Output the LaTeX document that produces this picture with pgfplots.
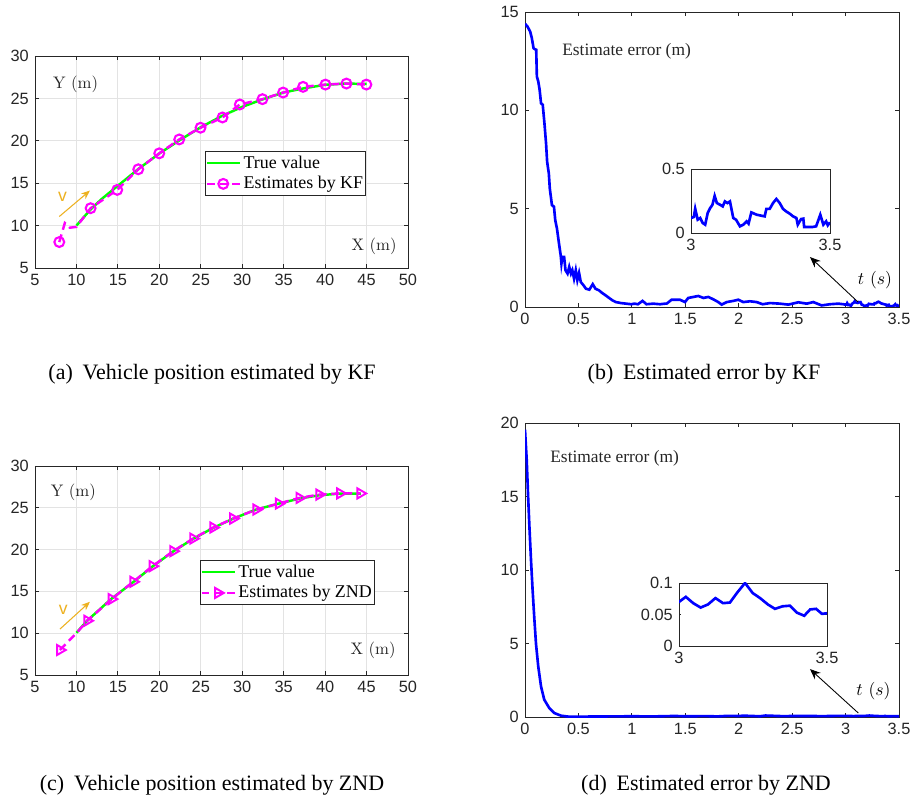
\documentclass[border=0pt]{standalone}
\usepackage{fontspec}
\setsansfont{Liberation Sans}
\newfontfamily\tnr{Liberation Serif}
\usepackage{pgfplots}
\usepackage{pgfplotstable}
\pgfplotsset{compat=1.18}
\usetikzlibrary{arrows.meta}

\definecolor{axgray}{rgb}{0.15,0.15,0.15}
\definecolor{vorange}{rgb}{0.929,0.694,0.125}
\definecolor{mmag}{rgb}{1,0,1}
\definecolor{mgreen}{rgb}{0,1,0}
\definecolor{mblue}{rgb}{0,0,1}

% KF estimate error (t, e)
\pgfplotstableread{
t e
0 14.40
0.022 14.27
0.048 14.01
0.064 13.67
0.080 13.16
0.092 13.11
0.105 13.08
0.111 11.72
0.124 11.47
0.137 11.04
0.150 10.36
0.166 10.28
0.182 9.34
0.197 8.32
0.207 7.39
0.223 6.79
0.232 6.03
0.252 5.18
0.271 5.10
0.283 4.42
0.299 3.99
0.318 3.23
0.334 2.63
0.341 2.21
0.350 2.55
0.366 2.55
0.379 1.87
0.398 1.70
0.414 2.04
0.430 1.70
0.443 1.87
0.459 1.44
0.475 1.87
0.490 1.36
0.506 1.73
0.522 1.27
0.548 1.10
0.570 0.93
0.602 0.88
0.634 1.16
0.659 0.93
0.691 0.85
0.723 0.71
0.755 0.59
0.787 0.46
0.818 0.34
0.850 0.25
0.898 0.20
0.946 0.17
0.994 0.14
1.025 0.17
1.057 0.14
1.100 0.31
1.137 0.14
1.200 0.17
1.264 0.14
1.310 0.17
1.326 0.17
1.372 0.37
1.450 0.37
1.497 0.25
1.528 0.46
1.575 0.51
1.622 0.56
1.669 0.46
1.716 0.51
1.762 0.39
1.809 0.25
1.840 0.12
1.887 0.25
1.950 0.31
1.996 0.37
2.043 0.25
2.105 0.29
2.168 0.25
2.224 0.14
2.293 0.20
2.386 0.17
2.464 0.12
2.558 0.24
2.636 0.17
2.698 0.25
2.776 0.08
2.854 0.14
2.932 0.17
2.979 0.14
3.000 0.117
3.010 0.125
3.015 0.190
3.024 0.104
3.033 0.117
3.042 0.078
3.051 0.065
3.060 0.156
3.069 0.195
3.077 0.220
3.085 0.290
3.093 0.234
3.105 0.220
3.114 0.208
3.122 0.247
3.131 0.234
3.140 0.247
3.152 0.117
3.162 0.104
3.176 0.052
3.188 0.065
3.200 0.091
3.207 0.073
3.217 0.161
3.236 0.143
3.253 0.135
3.265 0.130
3.271 0.188
3.283 0.188
3.295 0.234
3.307 0.266
3.319 0.234
3.331 0.188
3.342 0.169
3.355 0.151
3.367 0.130
3.379 0.117
3.384 0.065
3.396 0.109
3.404 0.112
3.407 0.047
3.437 0.047
3.450 0.052
3.465 0.143
3.476 0.065
3.486 0.091
3.492 0.060
3.500 0.083
}\kferr

% ZND estimate error (t, e)
\pgfplotstableread{
t e
0 19.55
0.016 17.5
0.028 15.2
0.041 13.0
0.056 10.7
0.071 8.66
0.087 6.73
0.103 4.97
0.124 3.44
0.150 2.08
0.180 1.18
0.227 0.61
0.274 0.27
0.337 0.09
0.400 0.03
0.45 0.02
0.6 0.03
0.8 0.04
1.0 0.05
1.2 0.04
1.4 0.07
1.5 0.05
1.7 0.06
1.8 0.04
1.9 0.08
2.0 0.07
2.05 0.09
2.2 0.05
2.25 0.10
2.4 0.06
2.6 0.07
2.8 0.06
2.95 0.08
3.000 0.070
3.023 0.078
3.048 0.068
3.073 0.061
3.098 0.066
3.123 0.076
3.149 0.068
3.172 0.069
3.197 0.085
3.223 0.100
3.249 0.084
3.274 0.076
3.300 0.066
3.324 0.059
3.350 0.063
3.375 0.064
3.398 0.053
3.423 0.048
3.443 0.058
3.463 0.059
3.483 0.051
3.500 0.052
}\znderr

\pgfplotsset{
  matlab/.style={
    scale only axis,
    axis line style={axgray, line width=0.5pt},
    every tick/.style={axgray, line width=0.5pt},
    tick align=inside,
    tick pos=both,
    major tick length=0.08cm,
    scaled ticks=false,
    ticklabel style={font=\sffamily\fontsize{9.3}{10}\selectfont, text=axgray},
    /pgf/number format/assume math mode=true,
    axis background/.style={fill=white},
  },
  pos/.style={
    matlab,
    width=7.46cm,
    xmin=5, xmax=50, ymin=5, ymax=30,
    xtick={5,10,...,50}, ytick={5,10,...,30},
    grid=major,
    grid style={line width=0.5pt, black!11},
    legend cell align=left,
    legend image code/.code={\draw[mark indices={2}] plot coordinates {(0cm,0cm) (0.33cm,0cm) (0.66cm,0cm)};},
    legend style={draw=axgray, line width=0.5pt, fill=white,
      font=\tnr\fontsize{10.2}{11}\selectfont,
      inner xsep=0pt, inner ysep=0.8pt,
      nodes={inner xsep=1.5pt, inner ysep=1.6pt}},
  },
  err/.style={
    matlab,
    width=7.48cm,
    xmin=0, xmax=3.5, ymin=0,
    xtick={0,0.5,...,3.5},
    xticklabels={0,0.5,1,1.5,2,2.5,3,3.5},
  },
  inset/.style={
    matlab,
    xmin=3, xmax=3.5, ymin=0,
    xtick={3,3.5}, xticklabels={3,3.5},
    major tick length=0.04cm,
  },
}
\tikzset{
  lab/.style={font=\fontsize{9.5}{11}\selectfont, text=axgray},
  elab/.style={font=\tnr\fontsize{9.9}{11}\selectfont, text=axgray, anchor=west, inner xsep=0pt},
  capt/.style={font=\tnr\fontsize{12.5}{14}\selectfont, anchor=base},
}

\begin{document}
\begin{tikzpicture}
\useasboundingbox (0,0) rectangle (18.24,15.96);

% (a) vehicle position, KF
\begin{axis}[pos, at={(0.70cm,10.60cm)}, anchor=south west, height=4.24cm,
  legend style={at={(0.456,0.552)}, anchor=north west}]
\addplot[mgreen, line width=1.4pt] coordinates {
  (10,10.0) (11.7,11.9) (13,13.1) (15,14.7) (17.5,16.7) (20,18.5) (22.5,20.1)
  (25,21.6) (27.5,22.9) (30,24.0) (32.5,24.9) (35,25.7) (37.5,26.2) (40,26.6)
  (42.5,26.75) (45,26.7)};
\addlegendentry{True value}
\addplot[mmag, line width=1.4pt, dash pattern=on 4.5pt off 2.8pt,
  mark=o, mark size=2.8pt, mark options={solid, line width=1.2pt},
  mark indices={1,5,6,7,8,9,10,11,12,13,14,15,16,17,18}] coordinates {
  (7.93,8.06) (8.6,10.3) (9.2,9.75) (10,9.85) (11.71,12.05) (14.92,14.21)
  (17.46,16.64) (19.99,18.52) (22.40,20.16) (24.97,21.54) (27.62,22.75)
  (29.71,24.28) (32.44,24.91) (34.93,25.69) (37.34,26.36) (40.04,26.63)
  (42.57,26.75) (44.98,26.63)};
\addlegendentry{Estimates by KF}
\node[lab] at (axis cs:9.9,26.67) {Y (m)};
\node[lab] at (axis cs:45.9,7.55) {X (m)};
\draw[vorange, line width=0.6pt, -{Stealth[length=5pt,width=4pt]}]
  (axis cs:7.93,11.07) -- (axis cs:11.63,14.13);
\node[vorange, font=\sffamily\fontsize{10}{11}\selectfont] at (axis cs:8.33,13.42) {v};
\end{axis}

% (b) estimate error, KF
\begin{axis}[err, at={(10.50cm,9.82cm)}, anchor=south west, height=5.90cm,
  ymax=15, ytick={0,5,10,15}]
\addplot[mblue, line width=1.5pt] table[x=t, y=e] {\kferr};
\node[elab] at (axis cs:0.346,12.98) {Estimate error (m)};
\node[font=\fontsize{10}{11}\selectfont] at (axis cs:3.275,1.37) {$t\ (s)$};
\draw[black, line width=0.5pt, -{Stealth[length=6pt,width=5pt]}]
  (axis cs:3.116,0.254) -- (axis cs:2.667,2.54);
\end{axis}
\begin{axis}[inset, at={(13.82cm,11.30cm)}, anchor=south west,
  width=2.78cm, height=1.28cm, ymax=0.5, ytick={0,0.5}, yticklabels={0,0.5}]
\addplot[mblue, line width=1.5pt] table[x=t, y=e] {\kferr};
\end{axis}

% (c) vehicle position, ZND
\begin{axis}[pos, at={(0.70cm,2.46cm)}, anchor=south west, height=4.18cm,
  legend style={at={(0.442,0.55)}, anchor=north west}]
\addplot[mgreen, line width=1.4pt] coordinates {
  (10,10.05) (11.3,11.5) (14.2,14.1) (16.9,16.15) (19.2,18.0) (21.7,19.8)
  (24.1,21.3) (26.5,22.6) (28.9,23.7) (31.7,24.8) (34.4,25.5) (36.9,26.1)
  (39.3,26.5) (41.8,26.7) (44.3,26.7)};
\addlegendentry{True value}
\addplot[mmag, line width=1.4pt, dash pattern=on 4.5pt off 2.8pt,
  mark=triangle, mark size=3.3pt, mark options={solid, rotate=-90, line width=1.1pt},
  mark indices={1,4,5,6,7,8,9,10,11,12,13,14,15,16,17}] coordinates {
  (8.01,7.99) (9.0,9.0) (10,10.0) (11.3,11.49) (14.24,14.08) (16.85,16.15)
  (19.18,18.02) (21.67,19.81) (24.08,21.32) (26.5,22.64) (28.9,23.71)
  (31.7,24.79) (34.4,25.5) (36.9,26.18) (39.3,26.58) (41.8,26.72) (44.25,26.72)};
\addlegendentry{Estimates by ZND}
\node[lab] at (axis cs:9.62,26.9) {Y (m)};
\node[lab] at (axis cs:45.78,7.99) {X (m)};
\draw[vorange, line width=0.6pt, -{Stealth[length=5pt,width=4pt]}]
  (axis cs:8.01,10.49) -- (axis cs:11.63,13.76);
\node[vorange, font=\sffamily\fontsize{10}{11}\selectfont] at (axis cs:8.42,12.84) {v};
\end{axis}

% (d) estimate error, ZND
\begin{axis}[err, at={(10.50cm,1.62cm)}, anchor=south west, height=5.88cm,
  ymax=20, ytick={0,5,10,15,20}]
\addplot[mblue, line width=1.5pt] table[x=t, y=e] {\znderr};
\node[elab] at (axis cs:0.234,17.62) {Estimate error (m)};
\node[font=\fontsize{10}{11}\selectfont] at (axis cs:3.26,1.79) {$t\ (s)$};
\draw[black, line width=0.5pt, -{Stealth[length=6pt,width=5pt]}]
  (axis cs:3.119,0.272) -- (axis cs:2.667,3.26);
\end{axis}
\begin{axis}[inset, at={(13.58cm,3.04cm)}, anchor=south west,
  width=2.96cm, height=1.26cm, ymax=0.1, ytick={0,0.05,0.1},
  yticklabels={0,0.05,0.1}]
\addplot[mblue, line width=1.5pt] table[x=t, y=e] {\znderr};
\end{axis}

% captions
\node[capt] at (4.24,8.36) {(a)\hspace{0.45em}Vehicle position estimated by KF};
\node[capt] at (14.08,8.36) {(b)\hspace{0.45em}Estimated error by KF};
\node[capt] at (4.24,0.14) {(c)\hspace{0.45em}Vehicle position estimated by ZND};
\node[capt] at (14.12,0.14) {(d)\hspace{0.45em}Estimated error by ZND};
\end{tikzpicture}
\end{document}
